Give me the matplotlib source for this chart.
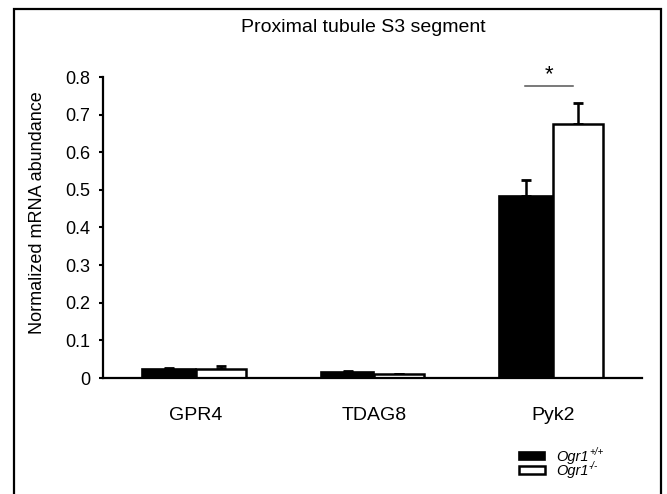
import numpy as np
import matplotlib
matplotlib.use('Agg')
import matplotlib.pyplot as plt
from matplotlib.patches import Rectangle

plt.rcParams['font.family'] = ['Liberation Sans', 'DejaVu Sans']

# data
genes = ['GPR4', 'TDAG8', 'Pyk2']
wt_mean = [0.024, 0.015, 0.483]
wt_err = [0.003, 0.004, 0.042]
ko_mean = [0.024, 0.010, 0.674]
ko_err = [0.007, 0.001, 0.058]
labels = ['Ogr1', 'Ogr1']
genotypes = ['+/+', '-/-']

W, H = 667, 494
fig = plt.figure(figsize=(W / 100, H / 100), dpi=100)
ax = fig.add_axes([103 / W, 1 - 378 / H, 539 / W, 301 / H])

x = np.arange(len(genes))
bw_black = 0.30
bw_white = 0.28
b1 = ax.bar(x, wt_mean, width=-bw_black, align='edge', color='black',
            edgecolor='black', linewidth=1.2, label=labels[0], zorder=2)
b2 = ax.bar(x, ko_mean, width=bw_white, align='edge', color='white',
            edgecolor='black', linewidth=1.8, label=labels[1], zorder=2)

zeros = np.zeros(len(genes))
ax.errorbar(x - bw_black / 2, wt_mean, yerr=[zeros, wt_err], fmt='none',
            ecolor='black', elinewidth=1.8, capsize=3.3, capthick=2, zorder=1)
ax.errorbar(x + bw_white / 2, ko_mean, yerr=[zeros, ko_err], fmt='none',
            ecolor='black', elinewidth=1.8, capsize=3.3, capthick=2, zorder=1)

# significance mark over Pyk2
ax.plot([2 - 0.157, 2 + 0.112], [0.777, 0.777], color='#555555', lw=1.1)
ax.text(1.978, 0.806, '*', ha='center', va='center', fontsize=16)

ax.set_xlim(-0.52, 2.5)
ax.set_ylim(0, 0.8)
ax.set_yticks(np.arange(0, 0.81, 0.1))
ax.set_yticklabels(['0'] + ['%.1f' % v for v in np.arange(0.1, 0.81, 0.1)])
ax.set_xticks(x)
ax.set_xticklabels(genes, fontsize=14)
ax.tick_params(axis='x', length=0, pad=21)
ax.tick_params(axis='y', length=3, width=1.5, direction='out', pad=6, labelsize=13)

for s in ['top', 'right']:
    ax.spines[s].set_visible(False)
for s in ['left', 'bottom']:
    ax.spines[s].set_linewidth(1.6)

ax.set_ylabel('Normalized mRNA abundance', fontsize=13)
ax.yaxis.set_label_coords(-0.106, 0.551)

fig.text(363 / W, 1 - 28 / H, 'Proximal tubule S3 segment', ha='center',
         va='center', fontsize=14)

leg = ax.legend(handles=[b1, b2], loc='upper left', frameon=False,
                bbox_to_anchor=(512 / W, 1 - 443 / H), bbox_transform=fig.transFigure,
                prop={'size': 10.5, 'style': 'italic'}, handlelength=1.75,
                handleheight=0.5, borderpad=0, labelspacing=0.0, handletextpad=0.75)
# superscript genotype next to each legend label
for t, g in zip(leg.get_texts(), genotypes):
    ax.annotate(g, xy=(1, 0.55), xycoords=t, xytext=(0.5, 0),
                textcoords='offset points', fontsize=7, style='italic',
                va='bottom', ha='left', zorder=10)

# outer frame (bottom edge falls outside the image)
fig.patches.append(Rectangle((14 / W, -0.05), 647 / W, 1.05 - 9 / H,
                             transform=fig.transFigure, fill=False,
                             edgecolor='black', linewidth=1.6))

fig.canvas.draw()
plt.savefig('out.png', dpi=100)
